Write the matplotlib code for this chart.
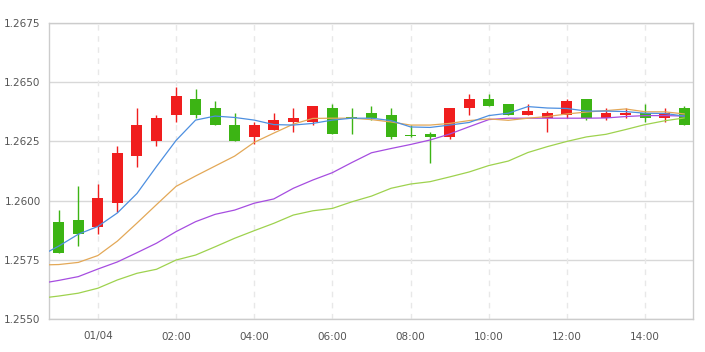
import matplotlib
matplotlib.use("Agg")
import matplotlib.pyplot as plt
import numpy as np

# time labels for each 30-minute candle
times = ["23:00", "23:30", "00:00", "00:30", "01:00", "01:30", "02:00", "02:30",
         "03:00", "03:30", "04:00", "04:30", "05:00", "05:30", "06:00", "06:30",
         "07:00", "07:30", "08:00", "08:30", "09:00", "09:30", "10:00", "10:30",
         "11:00", "11:30", "12:00", "12:30", "13:00", "13:30", "14:00", "14:30",
         "15:00"]
date_label = "01/04"

opens = [1.2591, 1.2592, 1.2589, 1.2599, 1.2619, 1.2625, 1.2636, 1.2643, 1.2639, 1.2632,
         1.2627, 1.2630, 1.2633, 1.2633, 1.2639, 1.26352, 1.2637, 1.2636, 1.26277, 1.2628,
         1.2627, 1.2639, 1.2643, 1.2641, 1.2636, 1.2635, 1.2636, 1.2643, 1.2635, 1.2636,
         1.2637, 1.2635, 1.2639]
highs = [1.2596, 1.2606, 1.2607, 1.2623, 1.2639, 1.2636, 1.2648, 1.2647, 1.2642, 1.2637,
         1.2633, 1.2637, 1.2639, 1.2640, 1.2641, 1.2639, 1.2640, 1.2639, 1.2632, 1.2629,
         1.2639, 1.2645, 1.2645, 1.2641, 1.2641, 1.2638, 1.2643, 1.2643, 1.2639, 1.2639,
         1.2641, 1.2639, 1.2640]
lows = [1.2578, 1.2581, 1.2586, 1.2595, 1.2614, 1.2623, 1.2633, 1.2635, 1.2632, 1.2625,
        1.2624, 1.2630, 1.2629, 1.2632, 1.2628, 1.2628, 1.2634, 1.2626, 1.2627, 1.2616,
        1.2626, 1.2636, 1.2640, 1.2636, 1.2636, 1.2629, 1.2635, 1.2634, 1.2634, 1.2635,
        1.2633, 1.2633, 1.2632]
closes = [1.2578, 1.2586, 1.2601, 1.2620, 1.2632, 1.2635, 1.2644, 1.2636, 1.2632, 1.2625,
          1.2632, 1.2634, 1.2635, 1.2640, 1.2628, 1.26345, 1.2635, 1.2627, 1.26274, 1.2627,
          1.2639, 1.2643, 1.2640, 1.2636, 1.2638, 1.2637, 1.2642, 1.2635, 1.2637, 1.2637,
          1.2635, 1.2637, 1.2632]

# moving average lines: first value is at the left edge of the plot, then one per candle
ma_blue = [1.25786, 1.25808, 1.25858, 1.25891, 1.25948, 1.26030, 1.26144, 1.26254, 1.26340,
           1.26357, 1.26351, 1.26340, 1.26321, 1.26319, 1.26326, 1.26340, 1.26348, 1.26348,
           1.26338, 1.26311, 1.26309, 1.26319, 1.26330, 1.26359, 1.26369, 1.26397, 1.26391,
           1.26389, 1.26378, 1.26378, 1.26376, 1.26369, 1.26368, 1.26357]
ma_orange = [1.25729, 1.25730, 1.25739, 1.25768, 1.25829, 1.25905, 1.25983, 1.26060, 1.26104,
             1.26146, 1.26188, 1.26246, 1.26285, 1.26323, 1.26347, 1.26348, 1.26348, 1.26342,
             1.26332, 1.26319, 1.26319, 1.26326, 1.26338, 1.26345, 1.26339, 1.26348, 1.26355,
             1.26366, 1.26374, 1.26380, 1.26387, 1.26375, 1.26375, 1.26366]
ma_purple = [1.25656, 1.25663, 1.25679, 1.25711, 1.25741, 1.25780, 1.25820, 1.25869, 1.25911,
             1.25942, 1.25960, 1.25989, 1.26007, 1.26052, 1.26087, 1.26118, 1.26161, 1.26202,
             1.26220, 1.26237, 1.26256, 1.26281, 1.26312, 1.26342, 1.26348, 1.26348, 1.26348,
             1.26348, 1.26348, 1.26349, 1.26355, 1.26359, 1.26359, 1.26357]
ma_green = [1.25592, 1.25597, 1.25609, 1.25630, 1.25665, 1.25693, 1.25710, 1.25749, 1.25770,
            1.25805, 1.25841, 1.25873, 1.25904, 1.25939, 1.25957, 1.25967, 1.25995, 1.26019,
            1.26052, 1.26070, 1.26080, 1.26100, 1.26121, 1.26148, 1.26167, 1.26203, 1.26228,
            1.26250, 1.26269, 1.26280, 1.26300, 1.26321, 1.26337, 1.26349]

y_ticks = [1.2550, 1.2575, 1.2600, 1.2625, 1.2650, 1.2675]

UP = "#f01e1e"
DOWN = "#3cb414"
GRID = "#d8d8d8"
TXT = "#555555"

fig = plt.figure(figsize=(7.05, 3.52), dpi=100)
ax = fig.add_axes([49 / 705, 1 - 319 / 352, (693 - 49) / 705, (319 - 23) / 352])

n = len(opens)
x = np.arange(n)
width = 0.56

# gridlines
for yt in y_ticks:
    ax.axhline(yt, color=GRID, lw=1.0, zorder=0)
tick_idx = [i for i, t in enumerate(times) if t.endswith(":00") and int(t[:2]) % 2 == 0 and int(t[:2]) < 23]
for i in tick_idx:
    ax.axvline(i, color="#e8e8e8", lw=1.0, ls=(0, (4, 4)), zorder=0)

# candles
for i in range(n):
    o, h, l, c = opens[i], highs[i], lows[i], closes[i]
    col = UP if c >= o else DOWN
    ax.vlines(i, l, h, color=col, lw=1.0, zorder=2)
    lo_b, hi_b = min(o, c), max(o, c)
    hgt = max(hi_b - lo_b, 0.00002)
    ax.bar(i, hgt, bottom=lo_b, width=width, color=col, edgecolor=col, lw=0, zorder=3)

# moving average lines
ma_x = np.concatenate([[-0.5], x])
ax.plot(ma_x, ma_green, color="#9ed24e", lw=0.9, zorder=4)
ax.plot(ma_x, ma_purple, color="#a64de0", lw=0.9, zorder=4)
ax.plot(ma_x, ma_orange, color="#e3a857", lw=0.9, zorder=4)
ax.plot(ma_x, ma_blue, color="#4d8fe0", lw=0.9, zorder=5)

ax.set_xlim(-0.5, 32.45)
ax.set_ylim(1.2550, 1.2675)
ax.set_yticks(y_ticks)
ax.set_yticklabels([f"{v:.4f}" for v in y_ticks])
ax.set_xticks(tick_idx)
ax.set_xticklabels([date_label if times[i] == "00:00" else times[i] for i in tick_idx])
ax.tick_params(axis="both", length=0, labelsize=7.5, labelcolor=TXT)
ax.tick_params(axis="y", pad=6)
ax.tick_params(axis="x", pad=9)
for s in ax.spines.values():
    s.set_color("#cccccc")
    s.set_linewidth(1.0)

fig.savefig("out.png", dpi=100)
